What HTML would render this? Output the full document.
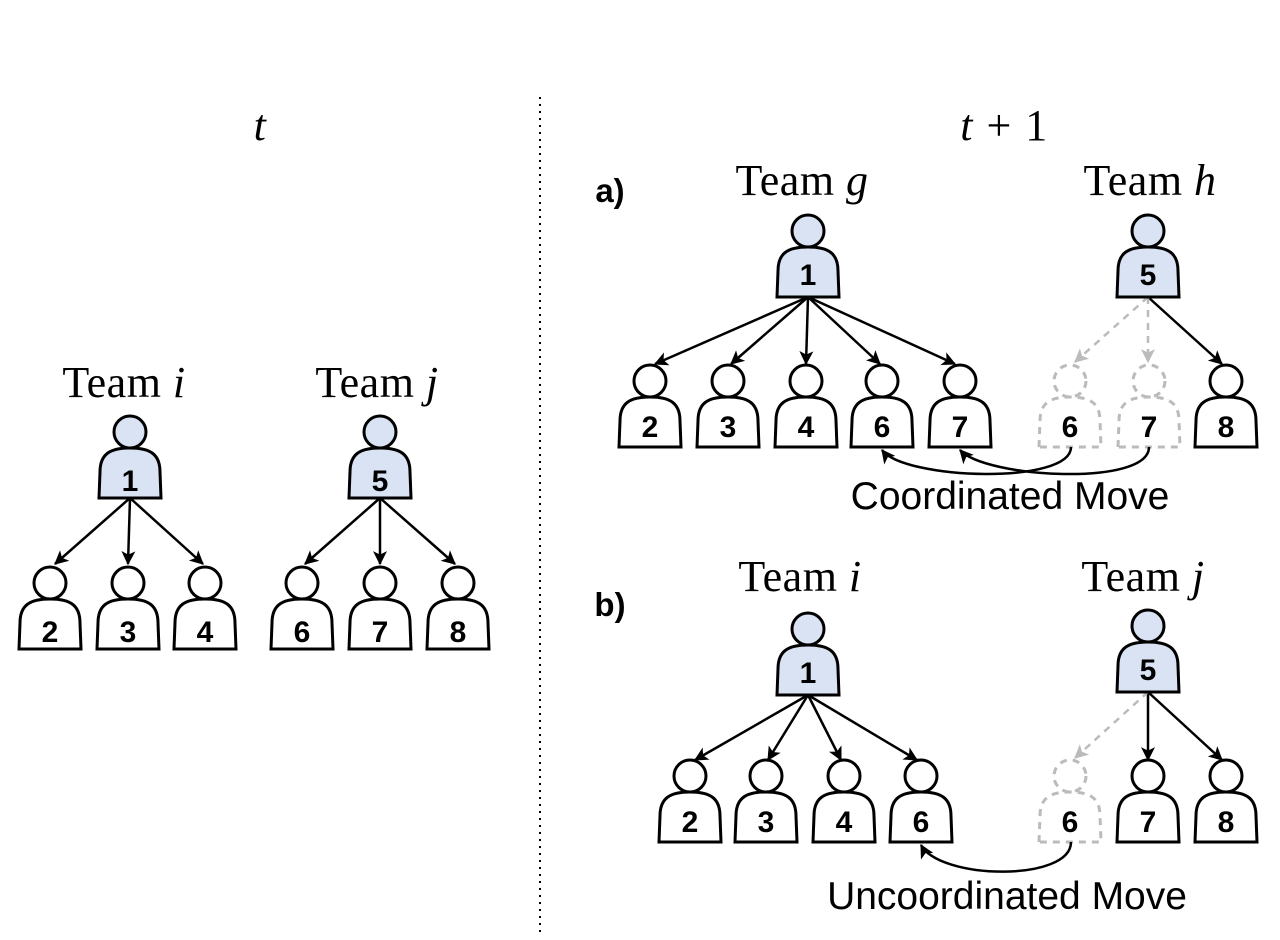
<!DOCTYPE html>
<html><head><meta charset="utf-8"><style>
html,body{margin:0;padding:0;background:#fff;}
svg{display:block;}
.serif{font-family:"Liberation Serif",serif;font-size:44px;letter-spacing:0.5px;}
.num{font-family:"Liberation Sans",sans-serif;font-weight:bold;font-size:30px;text-anchor:middle;}
</style></head><body>
<svg width="1280" height="940" viewBox="0 0 1280 940" xmlns="http://www.w3.org/2000/svg">
<defs>
<marker id="ar" viewBox="0 0 12 12" refX="11" refY="6" markerWidth="14" markerHeight="14" markerUnits="userSpaceOnUse" orient="auto">
<path d="M0,0 L12,6 L0,12 L3,6 Z" fill="#000"/>
</marker>
<marker id="arg" viewBox="0 0 12 12" refX="11" refY="6" markerWidth="14" markerHeight="14" markerUnits="userSpaceOnUse" orient="auto">
<path d="M0,0 L12,6 L0,12 L3,6 Z" fill="#bbb"/>
</marker>
<g id="pw">
<circle cx="0" cy="-66" r="16" fill="#fff" stroke="#000" stroke-width="3"/>
<path d="M-31,0 L-30,-26 C-30,-44 -20,-50 0,-50 C20,-50 30,-44 30,-26 L31,0 Z" fill="#fff" stroke="#000" stroke-width="3"/>
</g>
<g id="pb">
<circle cx="0" cy="-66" r="16" fill="#dae3f3" stroke="#000" stroke-width="3"/>
<path d="M-31,0 L-30,-26 C-30,-44 -20,-50 0,-50 C20,-50 30,-44 30,-26 L31,0 Z" fill="#dae3f3" stroke="#000" stroke-width="3"/>
</g>
<g id="pd">
<circle cx="0" cy="-66" r="16" fill="none" stroke="#bbb" stroke-width="3" stroke-dasharray="7,6"/>
<path d="M-31,0 L-30,-26 C-30,-44 -20,-50 0,-50 C20,-50 30,-44 30,-26 L31,0 Z" fill="none" stroke="#bbb" stroke-width="3" stroke-dasharray="7,6"/>
</g>
</defs>

<line x1="540" y1="97" x2="540" y2="932" stroke="#000" stroke-width="2" stroke-dasharray="2,5"/>

<text x="260" y="140" class="serif" font-style="italic" text-anchor="middle">t</text>
<text x="124" y="397" class="serif" text-anchor="middle">Team <tspan font-style="italic">i</tspan></text>
<text x="377" y="397" class="serif" text-anchor="middle">Team <tspan font-style="italic">j</tspan></text>

<g stroke="#000" stroke-width="2.5" marker-end="url(#ar)">
<line x1="130" y1="498" x2="55" y2="564"/>
<line x1="130" y1="498" x2="128" y2="564"/>
<line x1="130" y1="498" x2="203" y2="564"/>
<line x1="380" y1="498" x2="305" y2="564"/>
<line x1="380" y1="498" x2="380" y2="564"/>
<line x1="380" y1="498" x2="455" y2="564"/>
</g>
<use href="#pb" transform="translate(130,498)"/>
<use href="#pb" transform="translate(380,498)"/>
<use href="#pw" transform="translate(50,649)"/>
<use href="#pw" transform="translate(128,649)"/>
<use href="#pw" transform="translate(205,649)"/>
<use href="#pw" transform="translate(302,649)"/>
<use href="#pw" transform="translate(380,649)"/>
<use href="#pw" transform="translate(458,649)"/>
<text class="num" x="130" y="491">1</text>
<text class="num" x="380" y="491">5</text>
<text class="num" x="50" y="642">2</text>
<text class="num" x="128" y="642">3</text>
<text class="num" x="205" y="642">4</text>
<text class="num" x="302" y="642">6</text>
<text class="num" x="380" y="642">7</text>
<text class="num" x="458" y="642">8</text>

<text x="1004" y="140" class="serif" text-anchor="middle"><tspan font-style="italic">t</tspan> <tspan dx="2">+</tspan> <tspan dx="2">1</tspan></text>

<text x="610" y="202" font-family="Liberation Sans,sans-serif" font-weight="bold" font-size="33" text-anchor="middle">a)</text>
<text x="802" y="195" class="serif" text-anchor="middle">Team <tspan font-style="italic">g</tspan></text>
<text x="1150" y="195" class="serif" text-anchor="middle">Team <tspan font-style="italic">h</tspan></text>
<g stroke="#000" stroke-width="2.5" marker-end="url(#ar)">
<line x1="808" y1="297" x2="655" y2="364"/>
<line x1="808" y1="297" x2="731" y2="364"/>
<line x1="808" y1="297" x2="806" y2="364"/>
<line x1="808" y1="297" x2="880" y2="364"/>
<line x1="808" y1="297" x2="955" y2="364"/>
<line x1="1148" y1="297" x2="1222" y2="364"/>
</g>
<g stroke="#bbb" stroke-width="2.5" stroke-dasharray="7,6" marker-end="url(#arg)">
<line x1="1148" y1="297" x2="1075" y2="362"/>
<line x1="1148" y1="297" x2="1148" y2="362"/>
</g>
<use href="#pb" transform="translate(808,297)"/>
<use href="#pb" transform="translate(1148,297)"/>
<use href="#pw" transform="translate(650,447)"/>
<use href="#pw" transform="translate(728,447)"/>
<use href="#pw" transform="translate(806,447)"/>
<use href="#pw" transform="translate(882,447)"/>
<use href="#pw" transform="translate(960,447)"/>
<use href="#pd" transform="translate(1070,447)"/>
<use href="#pd" transform="translate(1149,447)"/>
<use href="#pw" transform="translate(1226,447)"/>
<text class="num" x="808" y="285">1</text>
<text class="num" x="1148" y="285">5</text>
<text class="num" x="650" y="437">2</text>
<text class="num" x="728" y="437">3</text>
<text class="num" x="806" y="437">4</text>
<text class="num" x="882" y="437">6</text>
<text class="num" x="960" y="437">7</text>
<text class="num" x="1070" y="437">6</text>
<text class="num" x="1149" y="437">7</text>
<text class="num" x="1226" y="437">8</text>
<g fill="none" stroke="#000" stroke-width="2.5" marker-end="url(#ar)">
<path d="M1071,447 C1071,485 905,480 882,450"/>
<path d="M1149,447 C1149,487 985,478 960,450"/>
</g>
<text x="1010" y="509" font-family="Liberation Sans,sans-serif" font-size="39" text-anchor="middle">Coordinated Move</text>

<text x="610" y="616" font-family="Liberation Sans,sans-serif" font-weight="bold" font-size="33" text-anchor="middle">b)</text>
<text x="800" y="591" class="serif" text-anchor="middle">Team <tspan font-style="italic">i</tspan></text>
<text x="1143" y="591" class="serif" text-anchor="middle">Team <tspan font-style="italic">j</tspan></text>
<g stroke="#000" stroke-width="2.5" marker-end="url(#ar)">
<line x1="808" y1="695" x2="695" y2="760"/>
<line x1="808" y1="695" x2="768" y2="760"/>
<line x1="808" y1="695" x2="841" y2="760"/>
<line x1="808" y1="695" x2="917" y2="760"/>
<line x1="1148" y1="692" x2="1148" y2="760"/>
<line x1="1148" y1="692" x2="1222" y2="760"/>
</g>
<g stroke="#bbb" stroke-width="2.5" stroke-dasharray="7,6" marker-end="url(#arg)">
<line x1="1148" y1="692" x2="1075" y2="758"/>
</g>
<use href="#pb" transform="translate(808,695)"/>
<use href="#pb" transform="translate(1148,692)"/>
<use href="#pw" transform="translate(690,842)"/>
<use href="#pw" transform="translate(766,842)"/>
<use href="#pw" transform="translate(844,842)"/>
<use href="#pw" transform="translate(921,842)"/>
<use href="#pd" transform="translate(1070,842)"/>
<use href="#pw" transform="translate(1148,842)"/>
<use href="#pw" transform="translate(1226,842)"/>
<text class="num" x="808" y="683">1</text>
<text class="num" x="1148" y="680">5</text>
<text class="num" x="690" y="832">2</text>
<text class="num" x="766" y="832">3</text>
<text class="num" x="844" y="832">4</text>
<text class="num" x="921" y="832">6</text>
<text class="num" x="1070" y="832">6</text>
<text class="num" x="1148" y="832">7</text>
<text class="num" x="1226" y="832">8</text>
<path d="M1071,842 C1071,882 940,880 921,845" fill="none" stroke="#000" stroke-width="2.5" marker-end="url(#ar)"/>
<text x="1007" y="909" font-family="Liberation Sans,sans-serif" font-size="39" text-anchor="middle">Uncoordinated Move</text>
</svg>
</body></html>
